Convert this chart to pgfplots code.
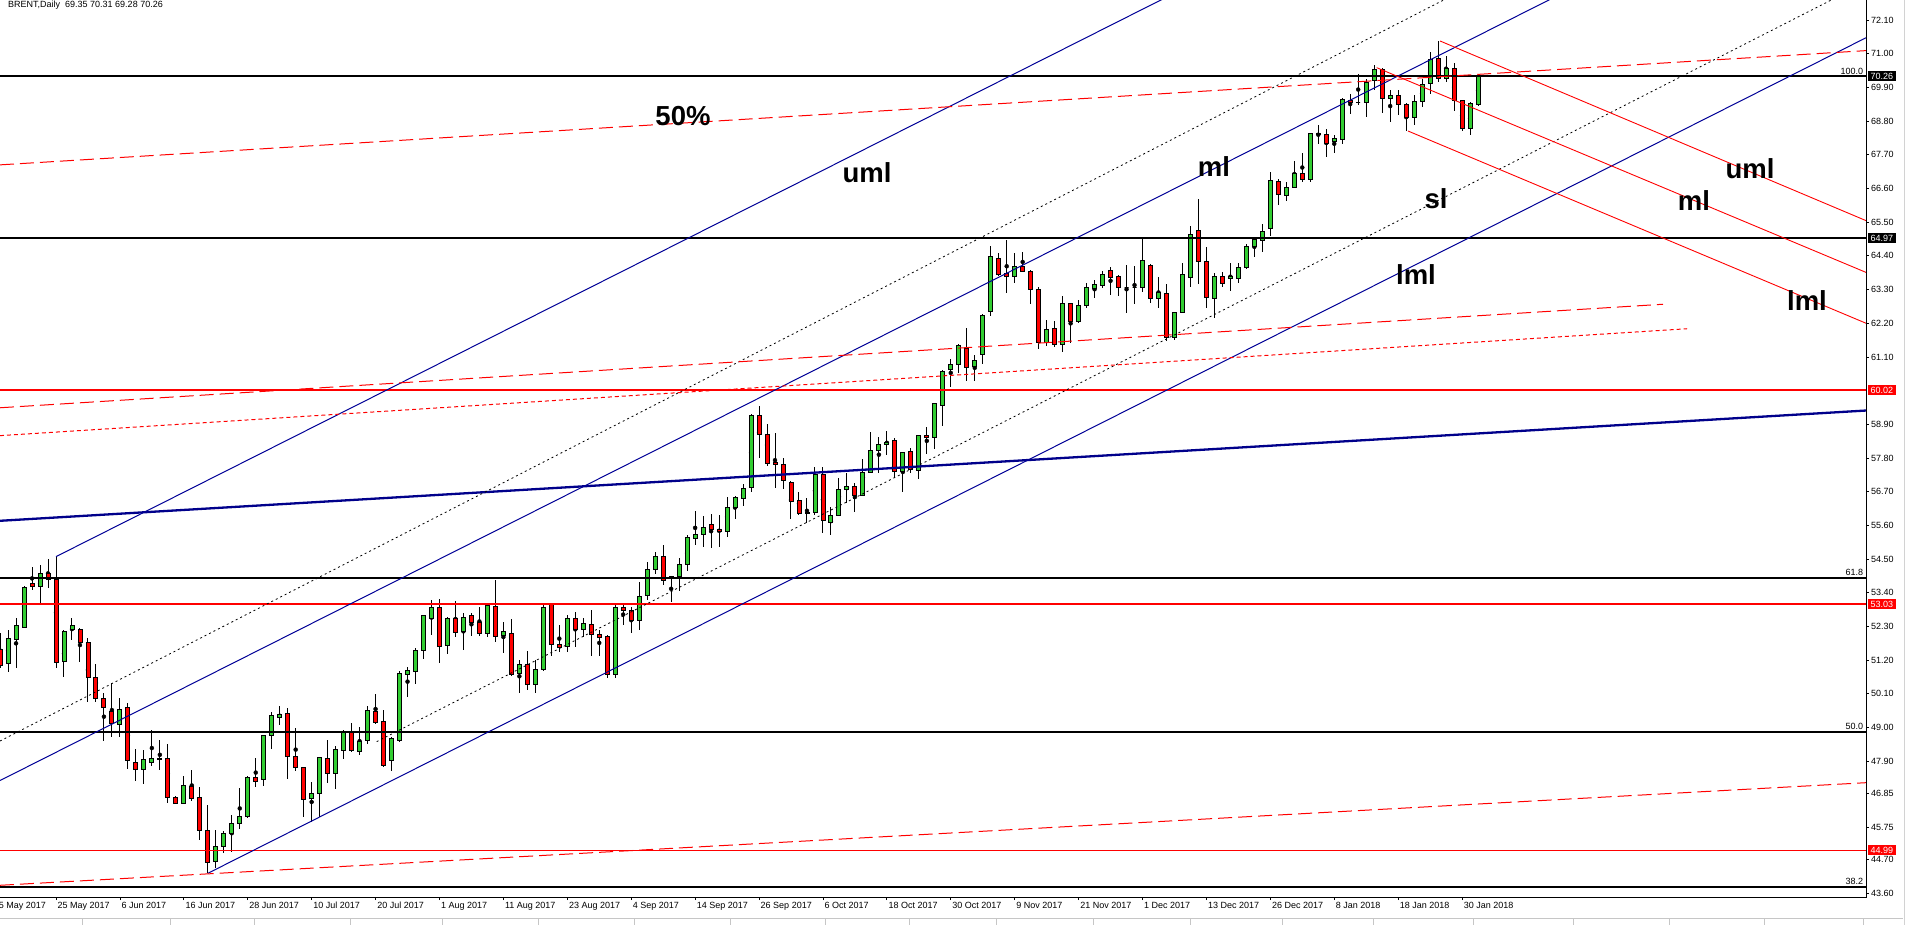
\documentclass[border=0pt]{standalone}
\usepackage{pgfplots}
\pgfplotsset{compat=1.18}
\usepackage{pgfplotstable}
\usepackage{fontspec}
\setmainfont{Liberation Sans}
\definecolor{mtred}{RGB}{255,0,0}
\definecolor{mtnavy}{RGB}{0,0,139}
\definecolor{mtblue}{RGB}{0,0,150}
\newcommand{\tickfont}{\fontsize{9bp}{10bp}\selectfont}
\newcommand{\bigfont}{\fontsize{27.5bp}{30bp}\selectfont\bfseries}
\newdimen\candlehalf
\pgfdeclareplotmark{candle}{%
  \pgfmathsetlength{\candlehalf}{\candlebh*15.315bp}%
  \pgfpathrectangle{\pgfpoint{-2bp}{-\candlehalf}}{\pgfpoint{4bp}{2*\candlehalf}}%
  \pgfusepathqfillstroke}

\pgfplotstableread{
i O H L C
-7 51.56 52.08 50.95 51.04
-6 51.10 52.19 50.82 51.91
-5 51.88 52.57 50.93 52.32
-4 52.27 53.62 52.27 53.58
-3 53.69 54.25 53.49 53.62
-2 53.60 54.31 53.08 54.04
-1 54.04 54.50 53.57 53.82
0 53.82 54.58 50.93 51.12
1 51.17 52.19 50.64 52.15
2 52.19 52.57 51.86 52.34
3 52.19 52.24 51.15 51.78
4 51.78 51.91 49.85 50.64
5 50.64 51.06 49.85 49.95
6 49.95 50.14 48.57 49.66
7 49.53 50.44 48.70 49.13
8 49.11 49.95 48.70 49.60
9 49.66 49.81 47.66 47.91
10 47.86 48.29 47.27 47.64
11 47.64 48.27 47.15 47.96
12 47.86 48.91 47.75 48.00
13 48.00 48.59 47.63 47.96
14 48.00 48.46 46.53 46.71
15 46.72 46.75 46.49 46.53
16 46.53 47.42 46.53 47.10
17 47.07 47.61 46.61 46.69
18 46.72 47.07 45.33 45.64
19 45.64 46.47 44.24 44.60
20 44.62 45.66 44.40 45.13
21 45.13 45.63 44.92 45.53
22 45.53 46.15 44.95 45.87
23 45.87 47.02 45.70 46.11
24 46.09 47.42 46.04 47.37
25 47.37 47.99 47.07 47.24
26 47.29 48.75 47.10 48.75
27 48.75 49.51 48.31 49.40
28 49.33 49.70 49.07 49.43
29 49.46 49.63 47.31 48.05
30 48.05 48.97 47.59 47.69
31 47.70 47.72 46.09 46.64
32 46.69 47.21 45.93 46.85
33 46.85 48.03 46.09 48.03
34 48.00 48.59 47.20 47.51
35 47.51 48.40 47.00 48.29
36 48.26 48.92 47.97 48.88
37 48.86 49.15 48.19 48.25
38 48.22 49.01 48.10 48.55
39 48.58 49.70 48.46 49.56
40 49.53 50.10 49.11 49.17
41 49.20 49.57 47.72 47.76
42 47.93 48.70 47.59 48.65
43 48.57 50.84 48.54 50.77
44 50.74 50.99 50.01 50.87
45 50.82 51.59 50.42 51.52
46 51.52 52.66 51.25 52.66
47 52.56 53.16 52.02 52.93
48 52.93 53.20 51.12 51.64
49 51.67 52.60 51.40 52.57
50 52.57 53.13 51.96 52.11
51 52.14 52.75 51.53 52.60
52 52.66 52.75 51.99 52.44
53 52.44 52.93 52.00 52.08
54 52.08 53.00 51.95 52.99
55 52.97 53.82 51.80 51.97
56 52.02 52.46 51.45 52.15
57 52.08 52.54 50.68 50.75
58 50.75 51.21 50.14 51.06
59 51.06 51.51 50.23 50.41
60 50.41 51.21 50.12 50.91
61 50.90 53.03 50.86 52.93
62 53.03 53.08 51.35 51.72
63 51.72 52.35 51.46 51.62
64 51.64 52.68 51.48 52.57
65 52.57 52.77 51.64 52.19
66 52.21 52.57 51.95 52.40
67 52.37 52.84 51.34 52.04
68 52.04 52.19 51.34 51.95
69 51.99 52.02 50.63 50.75
70 50.73 53.03 50.61 52.93
71 52.93 53.03 52.35 52.82
72 52.82 52.93 52.08 52.51
73 52.49 53.75 52.18 53.27
74 53.33 54.39 53.17 54.17
75 54.17 54.74 54.00 54.60
76 54.60 54.95 53.67 53.80
77 53.88 53.95 53.11 53.95
78 53.93 54.54 53.47 54.33
79 54.33 55.29 54.10 55.20
80 55.18 56.07 54.97 55.31
81 55.31 55.91 54.91 55.55
82 55.64 55.97 54.85 55.47
83 55.48 55.94 54.91 55.41
84 55.41 56.54 55.22 56.19
85 56.19 56.56 55.80 56.52
86 56.48 56.95 56.23 56.81
87 56.84 59.24 56.70 59.20
88 59.20 59.50 57.79 58.57
89 58.57 58.91 57.54 57.63
90 57.66 58.63 56.83 57.59
91 57.59 57.79 56.78 57.08
92 57.01 57.06 55.80 56.38
93 56.40 56.68 55.94 55.99
94 56.03 56.48 55.67 55.99
95 56.02 57.52 55.94 57.25
96 57.25 57.52 55.36 55.75
97 55.70 56.19 55.29 55.91
98 55.91 57.16 55.91 56.76
99 56.76 57.30 56.34 56.86
100 56.86 57.00 56.05 56.57
101 56.57 57.76 56.56 57.33
102 57.33 58.66 57.30 58.06
103 58.06 58.50 57.32 58.25
104 58.25 58.69 57.90 58.31
105 58.36 58.44 57.16 57.35
106 57.35 57.99 56.70 57.99
107 58.03 58.12 57.32 57.41
108 57.41 58.54 57.10 58.54
109 58.54 58.80 57.92 58.46
110 58.46 59.61 58.08 59.59
111 59.52 60.67 58.86 60.63
112 60.70 61.03 60.13 60.86
113 60.86 61.51 60.59 61.49
114 61.38 62.06 60.33 60.75
115 60.80 61.16 60.33 60.99
116 61.19 62.51 60.87 62.46
117 62.58 64.72 62.42 64.38
118 64.32 64.50 63.75 63.80
119 63.81 64.92 63.20 63.72
120 63.72 64.50 63.50 64.04
121 64.07 64.52 63.88 63.88
122 63.90 63.94 62.82 63.31
123 63.31 63.39 61.36 61.58
124 61.58 62.31 61.47 62.00
125 62.03 62.28 61.41 61.52
126 61.52 63.09 61.25 62.85
127 62.83 62.85 61.54 62.25
128 62.25 62.96 62.22 62.77
129 62.78 63.50 62.71 63.38
130 63.34 63.61 63.01 63.48
131 63.43 63.91 63.36 63.78
132 63.91 64.05 63.12 63.70
133 63.74 63.77 63.10 63.37
134 63.37 64.10 62.52 63.37
135 63.37 64.07 62.82 63.37
136 63.37 64.99 63.23 64.26
137 64.09 64.13 62.87 63.01
138 63.01 63.70 62.71 63.21
139 63.18 63.48 61.63 61.74
140 61.74 62.58 61.64 62.56
141 62.56 64.16 62.52 63.80
142 63.70 65.39 63.40 65.10
143 65.24 66.26 63.47 64.21
144 64.21 64.70 62.71 63.05
145 63.02 63.85 62.36 63.74
146 63.74 63.88 63.38 63.50
147 63.67 64.18 63.26 63.72
148 63.67 64.18 63.52 64.03
149 64.03 64.79 63.96 64.72
150 64.72 65.02 64.37 64.94
151 64.89 65.43 64.54 65.19
152 65.30 67.15 65.06 66.87
153 66.84 66.91 66.06 66.41
154 66.37 66.82 66.20 66.64
155 66.64 67.50 66.64 67.09
156 67.09 67.75 66.82 66.90
157 66.90 68.42 66.82 68.39
158 68.35 68.67 68.04 68.40
159 68.38 68.53 67.64 68.07
160 68.13 68.35 67.77 68.24
161 68.20 69.54 68.04 69.52
162 69.47 69.68 69.03 69.41
163 69.40 70.33 69.33 69.40
164 69.41 70.17 68.92 70.07
165 70.14 70.63 69.82 70.47
166 70.47 70.54 69.05 69.54
167 69.54 69.82 68.76 69.64
168 69.64 69.82 69.00 69.33
169 69.33 69.38 68.48 68.92
170 68.92 69.65 68.67 69.43
171 69.43 70.16 69.25 70.00
172 70.03 71.07 69.68 70.82
173 70.85 71.42 70.07 70.20
174 70.20 70.93 70.09 70.52
175 70.52 70.69 69.13 69.46
176 69.46 69.49 68.48 68.55
177 68.55 69.43 68.35 69.37
178 69.35 70.31 69.28 70.26
}\candles

\begin{document}
\begin{tikzpicture}
\useasboundingbox (0bp,0bp) rectangle (1907bp,925bp);
\begin{axis}[
  at={(0bp,28bp)}, anchor=south west,
  scale only axis, width=1866bp, height=897bp,
  xmin=-7.0097, xmax=226.56, ymin=43.468, ymax=72.753,
  axis line style={draw=none},
  clip mode=individual,
  tick align=outside, major tick length=3bp,
  tick style={black, line width=0.8bp},
  xtick pos=left, ytick pos=right, yticklabel pos=right,
  xtick={0,8,...,176},
  xticklabels={25 May 2017, 6 Jun 2017, 16 Jun 2017, 28 Jun 2017, 10 Jul 2017, 20 Jul 2017, 1 Aug 2017, 11 Aug 2017, 23 Aug 2017, 4 Sep 2017, 14 Sep 2017, 26 Sep 2017, 6 Oct 2017, 18 Oct 2017, 30 Oct 2017, 9 Nov 2017, 21 Nov 2017, 1 Dec 2017, 13 Dec 2017, 26 Dec 2017, 8 Jan 2018, 18 Jan 2018, 30 Jan 2018},
  xticklabel style={font=\tickfont, anchor=north west, inner sep=0pt, xshift=1.5bp, yshift=-2bp},
  ytick={43.60,44.70,45.75,46.85,47.90,49.00,50.10,51.20,52.30,53.40,54.50,55.60,56.70,57.80,58.90,61.10,62.20,63.30,64.40,65.50,66.60,67.70,68.80,69.90,71.00,72.10},
  yticklabel style={font=\tickfont, anchor=west, inner sep=0pt, xshift=2bp,
    /pgf/number format/.cd, fixed, fixed zerofill, precision=2, assume math mode=true},
  colormap={updown}{rgb255=(255,0,0) rgb255=(50,205,50)},
]
% wicks
\addplot[only marks, mark=none,
  error bars/.cd, y dir=both, y explicit, error mark=none,
  error bar style={black, line width=1bp}]
  table[x=i, y expr={(\thisrow{H}+\thisrow{L})/2}, y error expr={(\thisrow{H}-\thisrow{L})/2}] {\candles};
% bodies
\addplot[scatter, only marks, mark=candle,
  point meta=explicit,
  point meta min=0, point meta max=1,
  scatter/use mapped color={draw=black, fill=mapped color},
  visualization depends on={abs(\thisrow{C}-\thisrow{O}) \as \candlebh},
  mark options={line width=0.9bp}]
  table[x=i, y expr={(\thisrow{O}+\thisrow{C})/2}, meta expr={\thisrow{C}>=\thisrow{O}}] {\candles};

% horizontal levels
\addplot[black, line width=1.8bp] coordinates {(-7.01,70.26) (226.56,70.26)};
\addplot[black, line width=1.8bp] coordinates {(-7.01,64.97) (226.56,64.97)};
\addplot[black, line width=1.8bp] coordinates {(-7.01,53.89) (226.56,53.89)};
\addplot[black, line width=1.8bp] coordinates {(-7.01,48.86) (226.56,48.86)};
\addplot[black, line width=1.8bp] coordinates {(-7.01,43.80) (226.56,43.80)};
\addplot[mtred, line width=2.2bp] coordinates {(-7.01,60.02) (226.56,60.02)};
\addplot[mtred, line width=2.2bp] coordinates {(-7.01,53.03) (226.56,53.03)};
\addplot[mtred, line width=1bp] coordinates {(-7.01,44.99) (226.56,44.99)};

% navy trend line
\addplot[mtnavy, line width=2.3bp] coordinates {(-7.01,55.75) (226.56,59.35)};

% blue pitchfork
\addplot[mtblue, line width=1bp] coordinates {(0,54.58) (226.56,84.35)};
\addplot[mtblue, line width=1bp] coordinates {(-7.01,47.27) (226.56,77.97)};
\addplot[mtblue, line width=1bp] coordinates {(19,44.24) (226.56,71.52)};
% dotted parallels
\addplot[black, line width=0.8bp, dash pattern=on 2bp off 3bp] coordinates {(-7.01,48.56) (226.56,79.83)};
\addplot[black, line width=0.8bp, dash pattern=on 2bp off 3bp] coordinates {(40.14,48.54) (226.56,73.33)};

% red dashed / dotted lines
\addplot[mtred, line width=1bp, dash pattern=on 14bp off 6bp] coordinates {(-7.01,67.37) (226.56,71.10)};
\addplot[mtred, line width=1bp, dash pattern=on 14bp off 6bp] coordinates {(-7.01,59.44) (201.15,62.82)};
\addplot[mtred, line width=1bp, dash pattern=on 4bp off 3bp] coordinates {(-7.01,58.53) (204.16,62.02)};
\addplot[mtred, line width=1bp, dash pattern=on 14bp off 6bp] coordinates {(-7.01,43.85) (226.56,47.20)};

% red pitchfork
\addplot[mtred, line width=0.9bp] coordinates {(173.24,71.415) (226.56,65.55)};
\addplot[mtred, line width=0.9bp] coordinates {(165.31,70.544) (226.56,63.86)};
\addplot[mtred, line width=0.9bp] coordinates {(169.23,68.476) (226.56,62.20)};

% frame (bottom and right)
\draw[black, line width=1bp] (rel axis cs:0,0) -- (rel axis cs:1,0) -- (rel axis cs:1,1);

% fib labels
\node[anchor=south east, fill=white, inner sep=0.6bp, font=\tickfont, yshift=1bp] at (axis cs:226.3,70.26) {100.0};
\node[anchor=south east, fill=white, inner sep=0.6bp, font=\tickfont, yshift=1bp] at (axis cs:226.3,53.89) {61.8};
\node[anchor=south east, fill=white, inner sep=0.6bp, font=\tickfont, yshift=1bp] at (axis cs:226.3,48.86) {50.0};
\node[anchor=south east, fill=white, inner sep=0.6bp, font=\tickfont, yshift=1bp] at (axis cs:226.3,43.80) {38.2};

% price boxes
\node[anchor=west, fill=black, text=white, font=\tickfont, inner xsep=3bp, inner ysep=1.5bp, text height=6.8bp, text depth=0bp, xshift=1.5bp] at (axis cs:226.56,70.26) {70.26};
\node[anchor=west, fill=black, text=white, font=\tickfont, inner xsep=3bp, inner ysep=1.5bp, text height=6.8bp, text depth=0bp, xshift=1.5bp] at (axis cs:226.56,64.97) {64.97};
\node[anchor=west, fill=mtred, text=white, font=\tickfont, inner xsep=3bp, inner ysep=1.5bp, text height=6.8bp, text depth=0bp, xshift=1.5bp] at (axis cs:226.56,60.02) {60.02};
\node[anchor=west, fill=mtred, text=white, font=\tickfont, inner xsep=3bp, inner ysep=1.5bp, text height=6.8bp, text depth=0bp, xshift=1.5bp] at (axis cs:226.56,53.03) {53.03};
\node[anchor=west, fill=mtred, text=white, font=\tickfont, inner xsep=3bp, inner ysep=1.5bp, text height=6.8bp, text depth=0bp, xshift=1.5bp] at (axis cs:226.56,44.99) {44.99};

% big labels
\node[font=\bigfont] at (axis cs:78.48,68.97) {50\%};
\node[font=\bigfont] at (axis cs:101.51,67.10) {uml};
\node[font=\bigfont] at (axis cs:144.95,67.30) {ml};
\node[font=\bigfont] at (axis cs:172.74,66.26) {sl};
\node[font=\bigfont] at (axis cs:170.23,63.78) {lml};
\node[font=\bigfont] at (axis cs:212.04,67.24) {uml};
\node[font=\bigfont] at (axis cs:205.03,66.19) {ml};
\node[font=\bigfont] at (axis cs:219.17,62.93) {lml};

% header and cut first date
\node[anchor=north west, font=\tickfont, inner sep=0pt] at ([xshift=8bp,yshift=-1bp]rel axis cs:0,1) {BRENT,Daily\ \ 69.35 70.31 69.28 70.26};
\node[anchor=north west, font=\tickfont, inner sep=0pt, xshift=1.5bp, yshift=-5bp] at (axis cs:-8,43.468) {15 May 2017};
\end{axis}
% bottom tab bar
\draw[gray!45, line width=0.8bp] (0bp,6.5bp) -- (1903bp,6.5bp);
\foreach \xx in {82,170,254,350,442,538,634,730,825,909,996,1093,1190,1282,1373,1473,1573,1669,1764,1863}
  \draw[gray!45, line width=0.8bp] (\xx bp,0bp) -- (\xx bp,6.5bp);
\draw[gray!35, line width=0.8bp] (1904bp,0bp) -- (1904bp,925bp);
\end{tikzpicture}
\end{document}
